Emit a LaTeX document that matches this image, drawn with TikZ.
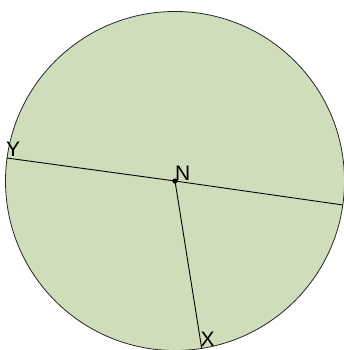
\documentclass[tikz,border=0pt]{standalone}
\usepackage{fontspec}
\setmainfont{Liberation Sans}
\definecolor{disk}{RGB}{208,221,186}
\begin{document}
\begin{tikzpicture}[x=1pt,y=1pt,
  lab/.style={inner sep=0pt,anchor=south west,font=\fontsize{21}{21}\selectfont},
  seg/.style={draw=black,line width=0.9pt}]
\useasboundingbox (0,0) rectangle (344,350);
\begin{scope}
\clip (0,0) rectangle (344,350);
\coordinate (N) at (175,169);
\coordinate (Y) at (6.7,192);
\coordinate (R) at (343,145);
\coordinate (X) at (201.7,1.5);
\draw[fill=disk,draw=black!85,line width=0.8pt] (N) circle[radius=169.5];
\draw[seg] (Y) -- (N) -- (R);
\draw[seg] (N) -- (X);
\fill (N) circle[radius=2.6];
\node[lab] (nl) at (175,169) {N};
\node[lab] (yl) at (6,193.3) {Y};
\node[lab] (xl) at (200.5,3) {X};
\end{scope}
\end{tikzpicture}
\end{document}
